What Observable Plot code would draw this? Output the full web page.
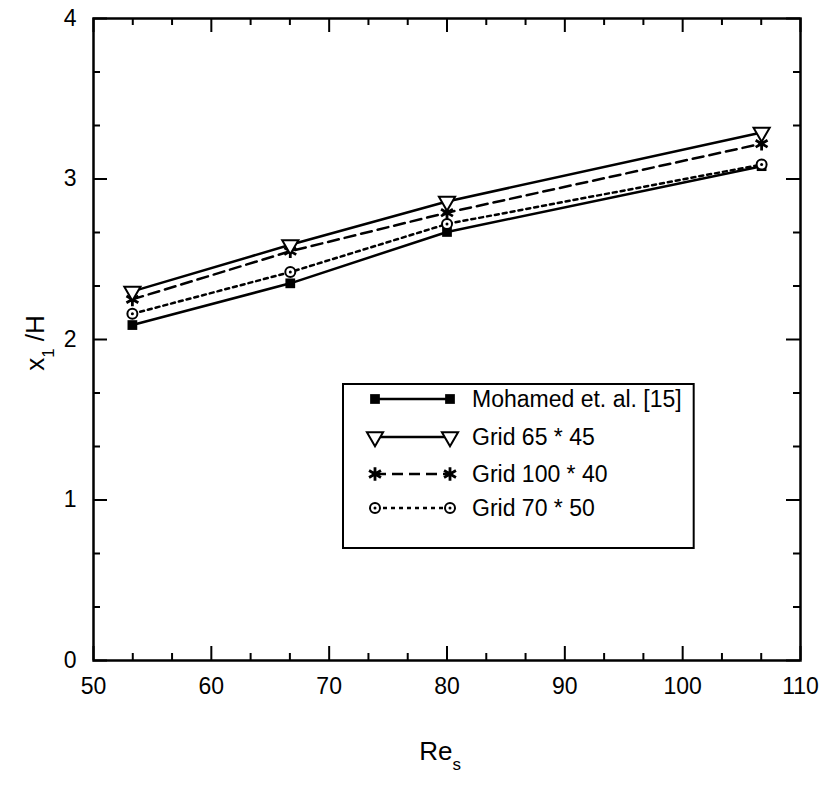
<!DOCTYPE html>
<html><head><meta charset="utf-8">
<script src="https://cdn.jsdelivr.net/npm/d3@7"></script>
<script src="https://cdn.jsdelivr.net/npm/@observablehq/plot@0.6"></script>
<style>
body{margin:0;background:#fff;}
#chart{position:relative;width:828px;height:787px;}
</style></head><body><div id="chart"></div>
<script>
// ---- data ----
const reynolds   = [53.3, 66.7, 80, 106.7];
const mohamed    = [2.09, 2.35, 2.67, 3.08];
const grid65x45  = [2.30, 2.59, 2.86, 3.29];
const grid100x40 = [2.25, 2.55, 2.79, 3.22];
const grid70x50  = [2.16, 2.42, 2.72, 3.09];
const seriesNames = ["Mohamed et. al. [15]", "Grid 65 * 45", "Grid 100 * 40", "Grid 70 * 50"];
const xTicks = [50, 60, 70, 80, 90, 100, 110];
const yTicks = [0, 1, 2, 3, 4];
const xMinor = d3.range(50, 110.01, 10/3).filter(v => Math.abs(v/10 - Math.round(v/10)) > 1e-6);
const yMinor = d3.range(0, 4.001, 1/3).filter(v => Math.abs(v - Math.round(v)) > 1e-6);

const W = 828, H = 787, ML = 93, MR = 28, MT = 18, MB = 127;
const IW = W - ML - MR, IH = H - MT - MB;
const FONT = "'Liberation Sans', Arial, Helvetica, sans-serif";

const rows = (ys) => reynolds.map((x, i) => ({x, y: ys[i]}));
const sMoh = rows(mohamed), s65 = rows(grid65x45), s100 = rows(grid100x40), s70 = rows(grid70x50);

const MAJ = 14, MIN = 7;
const plot = Plot.plot({
  width: W, height: H,
  marginLeft: ML, marginRight: MR, marginTop: MT, marginBottom: MB,
  style: `font-family: ${FONT}; font-size: 23px; color: black; background: white;`,
  x: {domain: [50, 110]},
  y: {domain: [0, 4]},
  marks: [
    // inward ticks on all four sides
    Plot.ruleX(xTicks, {stroke: "black", strokeWidth: 2, insetTop: IH - MAJ}),
    Plot.ruleX(xTicks, {stroke: "black", strokeWidth: 2, insetBottom: IH - MAJ}),
    Plot.ruleX(xMinor, {stroke: "black", strokeWidth: 2, insetTop: IH - MIN}),
    Plot.ruleX(xMinor, {stroke: "black", strokeWidth: 2, insetBottom: IH - MIN}),
    Plot.ruleY(yTicks, {stroke: "black", strokeWidth: 2, insetRight: IW - MAJ}),
    Plot.ruleY(yTicks, {stroke: "black", strokeWidth: 2, insetLeft: IW - MAJ}),
    Plot.ruleY(yMinor, {stroke: "black", strokeWidth: 2, insetRight: IW - MIN}),
    Plot.ruleY(yMinor, {stroke: "black", strokeWidth: 2, insetLeft: IW - MIN}),
    Plot.frame({stroke: "black", strokeWidth: 2.5}),
    Plot.axisX({ticks: xTicks, tickFormat: d => String(d), tickSize: 0, tickPadding: 17, label: null, fontSize: 23}),
    Plot.axisY({ticks: yTicks, tickFormat: d => String(d), tickSize: 0, tickPadding: 17, label: null, fontSize: 23}),
    // series lines
    Plot.line(sMoh, {x: "x", y: "y", stroke: "black", strokeWidth: 2.5}),
    Plot.line(s65, {x: "x", y: "y", stroke: "black", strokeWidth: 2.5}),
    Plot.line(s100, {x: "x", y: "y", stroke: "black", strokeWidth: 2.5, strokeDasharray: "11,6"}),
    Plot.line(s70, {x: "x", y: "y", stroke: "black", strokeWidth: 2.5, strokeDasharray: "4,4"}),
    // markers
    Plot.dot(sMoh, {x: "x", y: "y", symbol: "square", r: 5.5, fill: "black"}),
    Plot.dot(s70, {x: "x", y: "y", symbol: "circle", r: 5, fill: "white", stroke: "black", strokeWidth: 2}),
    Plot.dot(s70, {x: "x", y: "y", symbol: "circle", r: 1.5, fill: "black"}),
    Plot.dot(s100, {x: "x", y: "y", symbol: "asterisk", r: 6.5, stroke: "black", strokeWidth: 2.8}),
    Plot.dot(s65, {x: "x", y: "y", symbol: "triangle", rotate: 180, r: 6, fill: "white", stroke: "black", strokeWidth: 2})
  ]
});
document.getElementById("chart").appendChild(plot);

const svg = d3.select(plot);
// y-axis label x1 /H
const yl = svg.append("text")
  .attr("transform", "translate(44,343) rotate(-90)")
  .attr("text-anchor", "middle")
  .style("font-family", FONT).style("font-size", "26px").attr("fill", "black");
yl.append("tspan").text("x");
yl.append("tspan").attr("baseline-shift", "sub").style("font-size", "17px").text("1");
yl.append("tspan").text(" /H");
// x-axis label Re_s
const xl = svg.append("text")
  .attr("x", 440).attr("y", 760)
  .attr("text-anchor", "middle")
  .style("font-family", FONT).style("font-size", "26px").attr("fill", "black");
xl.append("tspan").text("Re");
xl.append("tspan").attr("baseline-shift", "sub").style("font-size", "17px").text("s");

// legend
const lg = svg.append("g");
const box = lg.append("rect").attr("x", 343).attr("y", 384).attr("height", 164)
  .attr("fill", "white").attr("stroke", "black").attr("stroke-width", 2);
const styles = [
  {dash: null, sym: d3.symbolSquare, fill: "black", stroke: "none", r: 5.5},
  {dash: null, sym: d3.symbolTriangle, fill: "white", stroke: "black", r: 6, rot: 180},
  {dash: "11,6", sym: d3.symbolAsterisk, fill: "none", stroke: "black", r: 6.5},
  {dash: "4,4", sym: d3.symbolCircle, fill: "white", stroke: "black", r: 5, dot: true}
];
const rowY = [399, 437, 474, 508];
let maxRight = 0;
seriesNames.forEach((name, i) => {
  const s = styles[i], y = rowY[i];
  lg.append("line").attr("x1", 375).attr("x2", 450).attr("y1", y).attr("y2", y)
    .attr("stroke", "black").attr("stroke-width", 2.5).attr("stroke-dasharray", s.dash);
  [375, 450].forEach(x => {
    lg.append("path").attr("d", d3.symbol(s.sym, Math.PI * s.r * s.r)())
      .attr("transform", `translate(${x},${y})` + (s.rot ? ` rotate(${s.rot})` : ""))
      .attr("fill", s.fill).attr("stroke", s.stroke).attr("stroke-width", s.sym === d3.symbolAsterisk ? 2.8 : 2);
    if (s.dot) lg.append("circle").attr("cx", x).attr("cy", y).attr("r", 1.5).attr("fill", "black");
  });
  const t = lg.append("text").attr("x", 472).attr("y", y).attr("dy", "0.35em")
    .attr("text-anchor", "start")
    .style("font-family", FONT).style("font-size", "23px").attr("fill", "black").text(name);
  maxRight = Math.max(maxRight, 472 + t.node().getComputedTextLength());
});
box.attr("width", maxRight + 12 - 343);
</script></body></html>
